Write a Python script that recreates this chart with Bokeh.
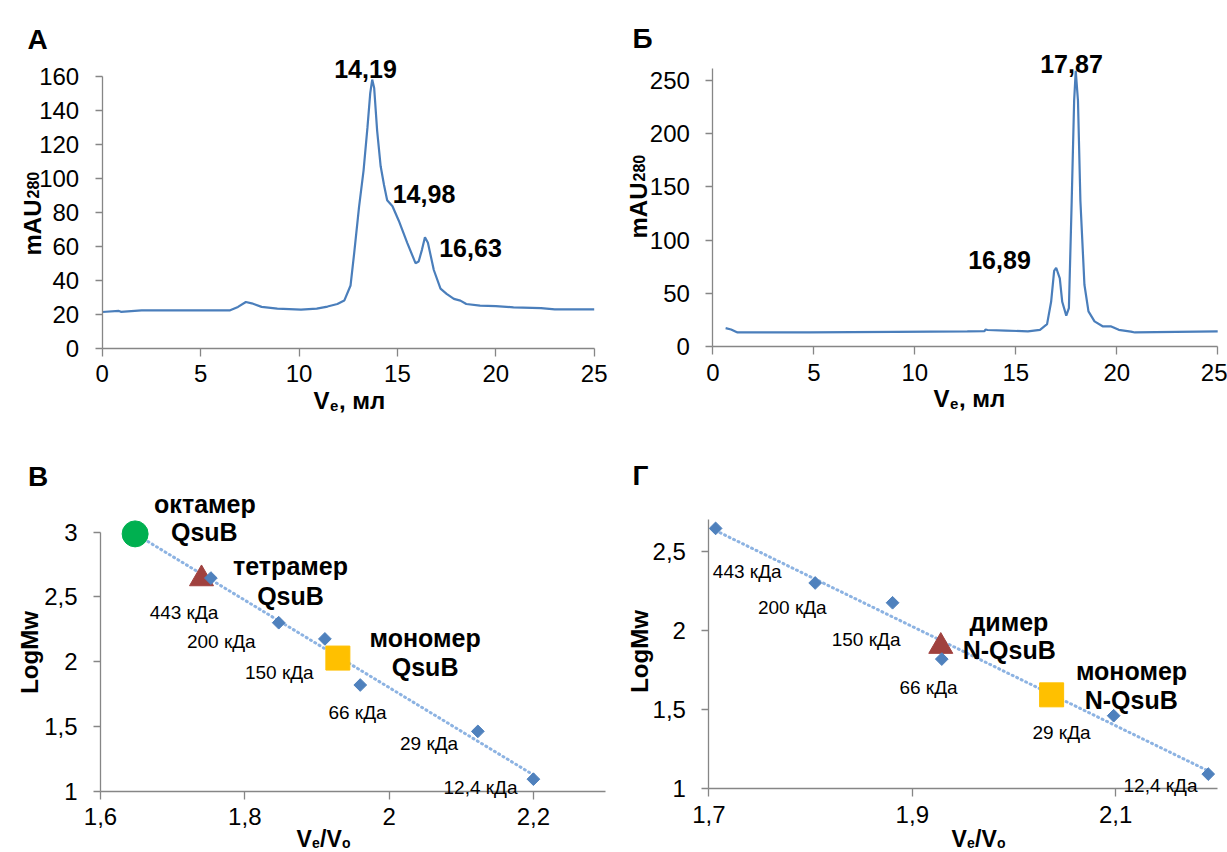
import numpy as np
from bokeh.plotting import figure
from bokeh.layouts import column, row
from bokeh.models import Label, FixedTicker, Range1d, CustomJSTickFormatter
from bokeh.embed import file_html
from bokeh.resources import INLINE

# ---------------- data ----------------
# Panel А : chromatogram
a_ve = [0.0, 0.85, 0.95, 2.0, 4.0, 6.5, 6.9, 7.3, 7.6, 8.1, 8.9, 10.1, 10.9, 11.45, 11.95, 12.3,
        12.62, 12.8, 13.05, 13.28, 13.48, 13.62, 13.72, 13.82, 13.97, 14.15, 14.32, 14.48, 14.75,
        15.07, 15.5, 15.92, 16.08, 16.25, 16.4, 16.55, 16.85, 17.19, 17.5, 17.87, 18.2, 18.5, 19.2,
        20.0, 20.9, 22.3, 23.0, 25.0]
a_mau = [21.3, 21.9, 21.4, 22.2, 22.2, 22.3, 24.3, 27.2, 26.4, 24.3, 23.3, 22.7, 23.3, 24.5, 26.0, 28.0,
         36.9, 55.5, 83.0, 104.5, 130.0, 150.0, 158.0, 153.0, 128.0, 107.0, 96.0, 87.0, 83.5,
         75.0, 62.0, 50.0, 51.0, 58.0, 65.3, 62.0, 46.0, 35.0, 32.0, 29.0, 28.0, 26.0, 25.0,
         24.8, 24.0, 23.6, 22.8, 22.8]
a_peak_labels = ["14,19", "14,98", "16,63"]

# Panel Б : chromatogram
b_ve = [0.63, 0.9, 1.22, 4.76, 9.0, 12.6, 13.45, 13.5, 13.6, 14.5, 15.6, 16.2, 16.55, 16.75, 16.9,
        17.0, 17.18, 17.3, 17.5, 17.63, 17.77, 17.89, 17.97, 18.08, 18.2, 18.4, 18.6, 18.9, 19.3,
        19.7, 20.1, 20.7, 20.9, 25.0]
b_mau = [17.3, 16.0, 13.2, 13.2, 13.8, 14.2, 14.4, 16.0, 15.5, 15.0, 14.2, 15.7, 21.0, 42.0, 71.0,
         74.0, 64.0, 42.0, 29.0, 36.0, 137.0, 231.0, 259.0, 231.0, 137.0, 58.0, 33.0, 23.6, 19.0,
         19.0, 15.7, 14.0, 13.2, 14.2]
b_peak_labels = ["16,89", "17,87"]

# Panels В, Г : calibration standards
std_labels = ["443 кДа", "200 кДа", "150 кДа", "66 кДа", "29 кДа", "12,4 кДа"]
std_logmw = [2.646, 2.301, 2.176, 1.820, 1.462, 1.093]
c_std_ratio = [1.753, 1.847, 1.911, 1.960, 2.123, 2.200]
d_std_ratio = [1.7066, 1.8045, 1.8806, 1.929, 2.098, 2.191]

c_octamer = (1.648, 2.987)
c_tetramer = (1.740, 2.640)
c_monomer = (1.929, 2.028)
d_dimer = (1.928, 1.900)
d_monomer = (2.037, 1.594)

# ---------------- styles ----------------
FONT = "Liberation Sans"
AXIS = "#868686"
LINE = "#4A7EBB"
DIAMOND = "#4F81BD"
TREND = "#8DB3E2"
GREEN = "#00B050"
RED = "#A0413E"
ORANGE = "#FFC000"


def make_fig(cx, cy, w, h, xa, ya):
    """Canvas rect (cx, cy, w, h) in page px; xa/ya = (pixel0, value0, pixel1, value1) calibration."""
    px0, xv0, px1, xv1 = xa
    py0, yv0, py1, yv1 = ya
    kx = (px1 - px0) / (xv1 - xv0)
    ky = (py0 - py1) / (yv1 - yv0)
    xr = (xv0 + (cx - px0) / kx, xv0 + (cx + w - px0) / kx)
    yr = (yv0 + (py0 - (cy + h)) / ky, yv0 + (py0 - cy) / ky)
    p = figure(width=w, height=h, x_range=Range1d(*xr), y_range=Range1d(*yr),
               min_border=0, output_backend="svg", toolbar_location=None, tools="", title=None)
    p.outline_line_color = None
    p.xgrid.visible = False
    p.ygrid.visible = False
    p.background_fill_color = "white"
    p.border_fill_color = "white"
    for ax in (p.xaxis[0], p.yaxis[0]):
        ax.axis_line_color = AXIS
        ax.axis_line_width = 1.3
        ax.major_tick_line_color = AXIS
        ax.major_tick_line_width = 1.3
        ax.major_tick_in = 0
        ax.minor_tick_in = 0
        ax.minor_tick_out = 0
        ax.major_label_text_font = FONT
        ax.major_label_text_font_size = "24px"
        ax.major_label_text_color = "black"
    p.xaxis.major_tick_out = 8
    p.yaxis.major_tick_out = 7
    p.xaxis.major_label_standoff = 9
    p.yaxis.major_label_standoff = 16
    p.xaxis.fixed_location = yv0
    p.yaxis.fixed_location = xv0
    spec = dict(px0=px0, xv0=xv0, kx=kx, py0=py0, yv0=yv0, ky=ky)
    return p, spec


def to_data(s, px, py):
    return s["xv0"] + (px - s["px0"]) / s["kx"], s["yv0"] + (s["py0"] - py) / s["ky"]


def lab(p, s, px, py, text, size, bold=False, align="left", baseline="alphabetic", angle=0.0):
    x, y = to_data(s, px, py)
    p.add_layout(Label(x=x, y=y, x_units="data", y_units="data", text=text,
                       text_font=FONT, text_font_size=f"{size}px",
                       text_font_style="bold" if bold else "normal",
                       text_color="black", text_align=align, text_baseline=baseline,
                       angle=angle))


comma_fmt = CustomJSTickFormatter(code="return String(Math.round(tick*10)/10).replace('.', ',');")

# ---------------- Panel А ----------------
pA, sA = make_fig(0, 0, 612, 425, (101.7, 0, 593.7, 25), (347.7, 0, 75.7, 160))
pA.xaxis.ticker = FixedTicker(ticks=[0, 5, 10, 15, 20, 25])
pA.yaxis.ticker = FixedTicker(ticks=[0, 20, 40, 60, 80, 100, 120, 140, 160])
pA.xaxis.bounds = (0, 25)
pA.yaxis.bounds = (0, 160)
pA.line(a_ve, a_mau, line_color=LINE, line_width=2.2)
for txt, (px, py) in zip(a_peak_labels, [(365, 68), (423.5, 193), (470, 247)]):
    lab(pA, sA, px, py, txt, 25, bold=True, align="center")
lab(pA, sA, 27, 39, "А", 28, bold=True)
lab(pA, sA, 32, 255, "mAU", 24, bold=True, angle=np.pi / 2)
lab(pA, sA, 32, 198, "280", 16, bold=True, angle=np.pi / 2)
lab(pA, sA, 313, 400, "V", 24, bold=True)
lab(pA, sA, 329.5, 405, "e", 15, bold=True)
lab(pA, sA, 338.5, 400, ", мл", 24, bold=True)

# ---------------- Panel Б ----------------
pB, sB = make_fig(612, 0, 615, 425, (712.4, 0, 1217.2, 25), (346, 0, 80, 250))
pB.xaxis.ticker = FixedTicker(ticks=[0, 5, 10, 15, 20, 25])
pB.yaxis.ticker = FixedTicker(ticks=[0, 50, 100, 150, 200, 250])
pB.xaxis.bounds = (0, 25)
pB.yaxis.bounds = (0, 261)
pB.line(b_ve, b_mau, line_color=LINE, line_width=2.2)
for txt, (px, py) in zip(b_peak_labels, [(999, 259), (1071, 63)]):
    lab(pB, sB, px, py, txt, 25, bold=True, align="center")
lab(pB, sB, 632, 37.5, "Б", 28, bold=True)
lab(pB, sB, 638, 238, "mAU", 24, bold=True, angle=np.pi / 2)
lab(pB, sB, 638, 181, "280", 16, bold=True, angle=np.pi / 2)
lab(pB, sB, 933, 398, "V", 24, bold=True)
lab(pB, sB, 949.5, 403, "e", 15, bold=True)
lab(pB, sB, 958.5, 398, ", мл", 24, bold=True)


def calib(p, s, std_x, trend_x0, big_markers, small_pos, big_texts):
    coef = np.polyfit(std_x, std_logmw, 1)
    tx = np.array([trend_x0, std_x[-1]])
    p.line(tx, np.polyval(coef, tx), line_color=TREND, line_width=3, line_dash="1 4",
           line_cap="round")
    for (mx, my), marker, color, size in big_markers:
        p.scatter([mx], [my], marker=marker, size=size, fill_color=color, line_color=color)
    p.scatter(std_x, std_logmw, marker="square", angle=np.pi / 4, size=9,
              fill_color=DIAMOND, line_color=DIAMOND)
    for txt, (px, py) in zip(std_labels, small_pos):
        lab(p, s, px, py, txt, 19, align="center")
    for txt, (px, py) in big_texts:
        lab(p, s, px, py, txt, 25, bold=True, align="center")
    p.xaxis.formatter = comma_fmt
    p.yaxis.formatter = comma_fmt


# ---------------- Panel В ----------------
pC, sC = make_fig(0, 425, 612, 427, (100, 1.6, 532.9, 2.2), (790.7, 1, 531.7, 3))
pC.xaxis.ticker = FixedTicker(ticks=[1.6, 1.8, 2.0, 2.2])
pC.yaxis.ticker = FixedTicker(ticks=[1, 1.5, 2, 2.5, 3])
pC.xaxis.bounds = (1.6, 2.3)
pC.yaxis.bounds = (1, 3)
calib(pC, sC, c_std_ratio, c_octamer[0],
      [(c_octamer, "circle", GREEN, 26), (c_tetramer, "triangle", RED, 24),
       (c_monomer, "square", ORANGE, 24)],
      [(183.5, 612), (220.8, 641), (278.8, 671.5), (357, 712), (428.6, 743), (480, 786.5)],
      [("октамер", (204.4, 503)), ("QsuB", (203.8, 531)),
       ("тетрамер", (290, 565)), ("QsuB", (290, 595)),
       ("мономер", (424.6, 637)), ("QsuB", (424.6, 666))])
lab(pC, sC, 27.5, 475.5, "В", 28, bold=True)
lab(pC, sC, 29, 652, "LogMw", 24, bold=True, align="center", angle=np.pi / 2)
lab(pC, sC, 296, 838, "V", 23, bold=True)
lab(pC, sC, 311.5, 842, "e", 14, bold=True)
lab(pC, sC, 319.5, 838, "/V", 23, bold=True)
lab(pC, sC, 341.5, 842, "o", 14, bold=True)

# ---------------- Panel Г ----------------
pD, sD = make_fig(612, 425, 615, 427, (708.4, 1.7, 1115.2, 2.1), (788.3, 1, 551, 2.5))
pD.xaxis.ticker = FixedTicker(ticks=[1.7, 1.9, 2.1])
pD.yaxis.ticker = FixedTicker(ticks=[1, 1.5, 2, 2.5])
pD.xaxis.bounds = (1.7, 2.2)
pD.yaxis.bounds = (1, 2.7)
calib(pD, sD, d_std_ratio, d_std_ratio[0],
      [(d_dimer, "triangle", RED, 24), (d_monomer, "square", ORANGE, 24)],
      [(746.7, 571), (791.8, 607), (865.6, 639), (928, 686.5), (1061, 732), (1160, 785)],
      [("димер", (1008.4, 621.7)), ("N-QsuB", (1008.7, 649)),
       ("мономер", (1131, 670.7)), ("N-QsuB", (1130.7, 699))])
lab(pD, sD, 632, 475, "Г", 28, bold=True)
lab(pD, sD, 639, 651, "LogMw", 24, bold=True, align="center", angle=np.pi / 2)
lab(pD, sD, 951, 838, "V", 23, bold=True)
lab(pD, sD, 966.5, 842, "e", 14, bold=True)
lab(pD, sD, 974.5, 838, "/V", 23, bold=True)
lab(pD, sD, 996.5, 842, "o", 14, bold=True)

layout = column(row(pA, pB), row(pC, pD))
open("out.html", "w").write(file_html(layout, INLINE))
